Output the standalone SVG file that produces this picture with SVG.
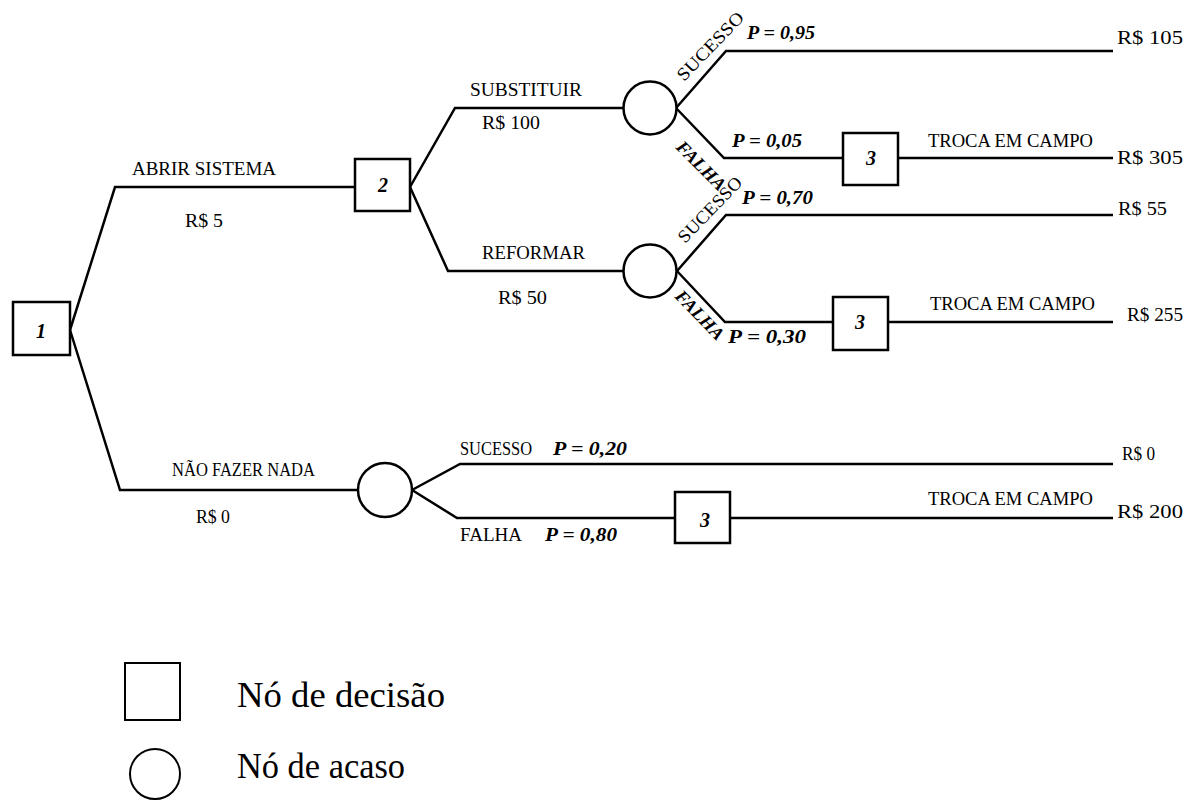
<svg xmlns="http://www.w3.org/2000/svg" width="1187" height="801" viewBox="0 0 1187 801">
<style>
.ln{fill:none;stroke:#000;stroke-width:2.5;stroke-linejoin:miter}
.nd{fill:#fff;stroke:#000;stroke-width:2.5}
.t{font-family:"Liberation Serif","Times New Roman",serif;font-size:18px;fill:#000}
.p{font-family:"Liberation Serif","Times New Roman",serif;font-size:18px;font-weight:bold;font-style:italic;fill:#000}
.n{font-family:"Liberation Serif","Times New Roman",serif;font-size:20px;font-weight:bold;font-style:italic;fill:#000;text-anchor:middle}
.lg{font-family:"Liberation Serif","Times New Roman",serif;font-size:36px;fill:#000}
</style>
<rect width="1187" height="801" fill="#fff"/>
<g id="connectors">
<path class="ln" d="M70,330 L115,187 L355,187"/>
<path class="ln" d="M70,330 L120,490 L358,490"/>
<path class="ln" d="M410,187 L455,108 L623,108"/>
<path class="ln" d="M410,187 L448,271 L623,271"/>
<path class="ln" d="M676,108 L726,51 L1113,51"/>
<path class="ln" d="M676,108 L724,158 L843,158"/>
<path class="ln" d="M898,158 L1113,158"/>
<path class="ln" d="M677,271 L726,215 L1113,215"/>
<path class="ln" d="M677,271 L725,322 L833,322"/>
<path class="ln" d="M888,322 L1113,322"/>
<path class="ln" d="M412,490 L460,464 L1113,464"/>
<path class="ln" d="M412,490 L457,518 L675,518"/>
<path class="ln" d="M730,518 L1113,518"/>
</g>
<g id="labels">
<text class="t" x="132" y="175" textLength="144" lengthAdjust="spacingAndGlyphs">ABRIR SISTEMA</text>
<text class="t" x="185" y="227" textLength="38" lengthAdjust="spacingAndGlyphs">R$ 5</text>
<text class="t" x="470" y="96" textLength="112" lengthAdjust="spacingAndGlyphs">SUBSTITUIR</text>
<text class="t" x="482" y="129" textLength="58" lengthAdjust="spacingAndGlyphs">R$ 100</text>
<text class="t" x="482" y="259" textLength="103" lengthAdjust="spacingAndGlyphs">REFORMAR</text>
<text class="t" x="498" y="304" textLength="49" lengthAdjust="spacingAndGlyphs">R$ 50</text>
<text class="t" x="172" y="476" textLength="143" lengthAdjust="spacingAndGlyphs">NÃO FAZER NADA</text>
<text class="t" x="196" y="523" textLength="34" lengthAdjust="spacingAndGlyphs">R$ 0</text>
<text class="t" transform="translate(684,82) rotate(-46)" textLength="88" lengthAdjust="spacingAndGlyphs">SUCESSO</text>
<text class="p" transform="translate(675,148) rotate(45)" textLength="62" lengthAdjust="spacingAndGlyphs">FALHA</text>
<text class="t" transform="translate(685,244) rotate(-46)" textLength="84" lengthAdjust="spacingAndGlyphs">SUCESSO</text>
<text class="p" transform="translate(674,297) rotate(46)" textLength="62" lengthAdjust="spacingAndGlyphs">FALHA</text>
<text class="p" x="747" y="39" textLength="68" lengthAdjust="spacingAndGlyphs">P = 0,95</text>
<text class="p" x="732" y="147" textLength="70" lengthAdjust="spacingAndGlyphs">P = 0,05</text>
<text class="p" x="742" y="204" textLength="71" lengthAdjust="spacingAndGlyphs">P = 0,70</text>
<text class="p" x="728" y="343" textLength="78" lengthAdjust="spacingAndGlyphs">P = 0,30</text>
<text class="t" x="460" y="455" textLength="72" lengthAdjust="spacingAndGlyphs">SUCESSO</text>
<text class="p" x="553" y="455" textLength="74" lengthAdjust="spacingAndGlyphs">P = 0,20</text>
<text class="t" x="460" y="541" textLength="62" lengthAdjust="spacingAndGlyphs">FALHA</text>
<text class="p" x="545" y="541" textLength="72" lengthAdjust="spacingAndGlyphs">P = 0,80</text>
<text class="t" x="928" y="147" textLength="165" lengthAdjust="spacingAndGlyphs">TROCA EM CAMPO</text>
<text class="t" x="930" y="310" textLength="165" lengthAdjust="spacingAndGlyphs">TROCA EM CAMPO</text>
<text class="t" x="928" y="505" textLength="165" lengthAdjust="spacingAndGlyphs">TROCA EM CAMPO</text>
<text class="t" x="1117" y="44" textLength="66" lengthAdjust="spacingAndGlyphs">R$ 105</text>
<text class="t" x="1117" y="164" textLength="66" lengthAdjust="spacingAndGlyphs">R$ 305</text>
<text class="t" x="1118" y="215" textLength="49" lengthAdjust="spacingAndGlyphs">R$ 55</text>
<text class="t" x="1127" y="321" textLength="56" lengthAdjust="spacingAndGlyphs">R$ 255</text>
<text class="t" x="1122" y="460" textLength="33" lengthAdjust="spacingAndGlyphs">R$ 0</text>
<text class="t" x="1117" y="518" textLength="66" lengthAdjust="spacingAndGlyphs">R$ 200</text>
</g>
<g id="node1"><rect class="nd" x="13" y="302" width="57" height="53"/><text class="n" x="41" y="338">1</text></g>
<g id="node2"><rect class="nd" x="355" y="159" width="55" height="52"/><text class="n" x="383" y="192">2</text></g>
<g id="chance-substituir"><circle class="nd" cx="650" cy="108" r="26.5"/></g>
<g id="chance-reformar"><circle class="nd" cx="650" cy="271" r="26.5"/></g>
<g id="chance-nada"><circle class="nd" cx="385" cy="490" r="27"/></g>
<g id="node3a"><rect class="nd" x="843" y="133" width="55" height="52"/><text class="n" x="871" y="165">3</text></g>
<g id="node3b"><rect class="nd" x="833" y="297" width="55" height="53"/><text class="n" x="860" y="329">3</text></g>
<g id="node3c"><rect class="nd" x="675" y="492" width="55" height="51"/><text class="n" x="705" y="527">3</text></g>
<g id="legend">
<rect x="125" y="663" width="55" height="57" fill="#fff" stroke="#000" stroke-width="2"/>
<text class="lg" x="237" y="707" textLength="208" lengthAdjust="spacingAndGlyphs">Nó de decisão</text>
<circle cx="155" cy="774" r="25" fill="#fff" stroke="#000" stroke-width="2"/>
<text class="lg" x="237" y="778" textLength="168" lengthAdjust="spacingAndGlyphs">Nó de acaso</text>
</g>
</svg>
